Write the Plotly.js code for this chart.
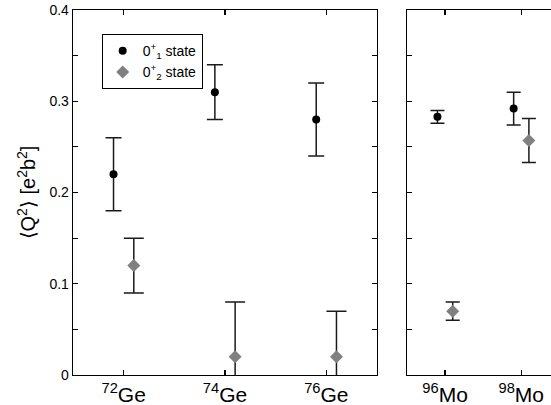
<!DOCTYPE html>
<html>
<head>
<meta charset="utf-8">
<script src="https://cdn.plot.ly/plotly-3.0.1.min.js"></script>
<style>html,body{margin:0;padding:0;overflow:hidden;background:#fff;}</style>
</head>
<body>
<div id="chart" style="width:551px;height:405px;"></div>
<script>
// Data
var geLabels = ['<sup>72</sup>Ge', '<sup>74</sup>Ge', '<sup>76</sup>Ge'];
var moLabels = ['<sup>96</sup>Mo', '<sup>98</sup>Mo'];
var yTickVals = [0, 0.1, 0.2, 0.3, 0.4];
var yTickText = ['0', '0.1', '0.2', '0.3', '0.4'];

var ge01 = [0.22, 0.31, 0.28];
var ge01Err = [0.04, 0.03, 0.04];
var ge02 = [0.12, 0.02, 0.02];
var ge02Err = [0.03, 0.06, 0.05];

var mo01 = [0.283, 0.292];
var mo01Err = [0.007, 0.018];
var mo02 = [0.07, 0.257];
var mo02Err = [0.01, 0.024];

var legend1 = '0<sup>+</sup><sub>1</sub> state';
var legend2 = '0<sup>+</sup><sub>2</sub> state';

function pos(arr, off) { return arr.map(function (_, i) { return i + 0.5 + off; }); }
function centers(arr) { return arr.map(function (_, i) { return i + 0.5; }); }

var black = '#000000';
var grey = '#808080';
var errCol = '#1a1a1a';

var traces = [
  { x: pos(ge01, -0.1), y: ge01, xaxis: 'x', yaxis: 'y', type: 'scatter', mode: 'markers',
    name: legend1, marker: { symbol: 'circle', size: 8, color: black },
    error_y: { type: 'data', array: ge01Err, visible: true, color: errCol, thickness: 1.5, width: 8 } },
  { x: pos(ge02, 0.1), y: ge02, xaxis: 'x', yaxis: 'y', type: 'scatter', mode: 'markers',
    name: legend2, marker: { symbol: 'diamond', size: 10, color: grey },
    error_y: { type: 'data', array: ge02Err, visible: true, color: errCol, thickness: 1.5, width: 10 } },
  { x: pos(mo01, -0.1), y: mo01, xaxis: 'x2', yaxis: 'y2', type: 'scatter', mode: 'markers',
    showlegend: false, marker: { symbol: 'circle', size: 8, color: black },
    error_y: { type: 'data', array: mo01Err, visible: true, color: errCol, thickness: 1.5, width: 7 } },
  { x: pos(mo02, 0.1), y: mo02, xaxis: 'x2', yaxis: 'y2', type: 'scatter', mode: 'markers',
    showlegend: false, marker: { symbol: 'diamond', size: 10, color: grey },
    error_y: { type: 'data', array: mo02Err, visible: true, color: errCol, thickness: 1.5, width: 7 } }
];

var font = 'Liberation Sans, Arial, sans-serif';
var axLine = { showline: true, linecolor: black, linewidth: 1.3, showgrid: false, zeroline: false,
  ticks: 'inside', ticklen: 5, tickcolor: black, tickwidth: 1.2 };

var layout = {
  width: 551, height: 405,
  margin: { l: 73, r: 0, t: 10, b: 29.5 },
  paper_bgcolor: '#fff', plot_bgcolor: '#fff',
  font: { family: font, color: black },
  showlegend: true,
  legend: { x: 0.06, y: 0.934, xanchor: 'left', yanchor: 'top', bgcolor: '#fff',
    bordercolor: black, borderwidth: 1, font: { size: 14, family: font },
    tracegroupgap: 0, itemwidth: 30 },
  xaxis: Object.assign({}, axLine, { domain: [0, 0.636], range: [0, 3], mirror: 'ticks',
    tickmode: 'array', tickvals: centers(geLabels), ticktext: geLabels,
    tickfont: { size: 21, family: font } }),
  yaxis: Object.assign({}, axLine, { range: [0, 0.4], mirror: 'ticks', tickmode: 'array',
    tickvals: yTickVals, ticktext: yTickText, tickfont: { size: 14, family: font },
    minor: { dtick: 0.05, ticks: 'inside', ticklen: 5, tickcolor: black },
    title: { text: '\u27E8Q<sup>2</sup>\u27E9 [e<sup>2</sup>b<sup>2</sup>]', font: { size: 20, family: font }, standoff: 8 } }),
  xaxis2: Object.assign({}, axLine, { domain: [0.6987, 1], range: [0, 1.89], anchor: 'y2', mirror: 'ticks',
    tickmode: 'array', tickvals: centers(moLabels), ticktext: moLabels,
    tickfont: { size: 21, family: font } }),
  yaxis2: Object.assign({}, axLine, { range: [0, 0.4], anchor: 'x2', mirror: false, tickmode: 'array',
    tickvals: yTickVals, showticklabels: false,
    minor: { dtick: 0.05, ticks: 'inside', ticklen: 5, tickcolor: black } })
};

Plotly.newPlot('chart', traces, layout, { displayModeBar: false, staticPlot: true });
</script>
</body>
</html>
